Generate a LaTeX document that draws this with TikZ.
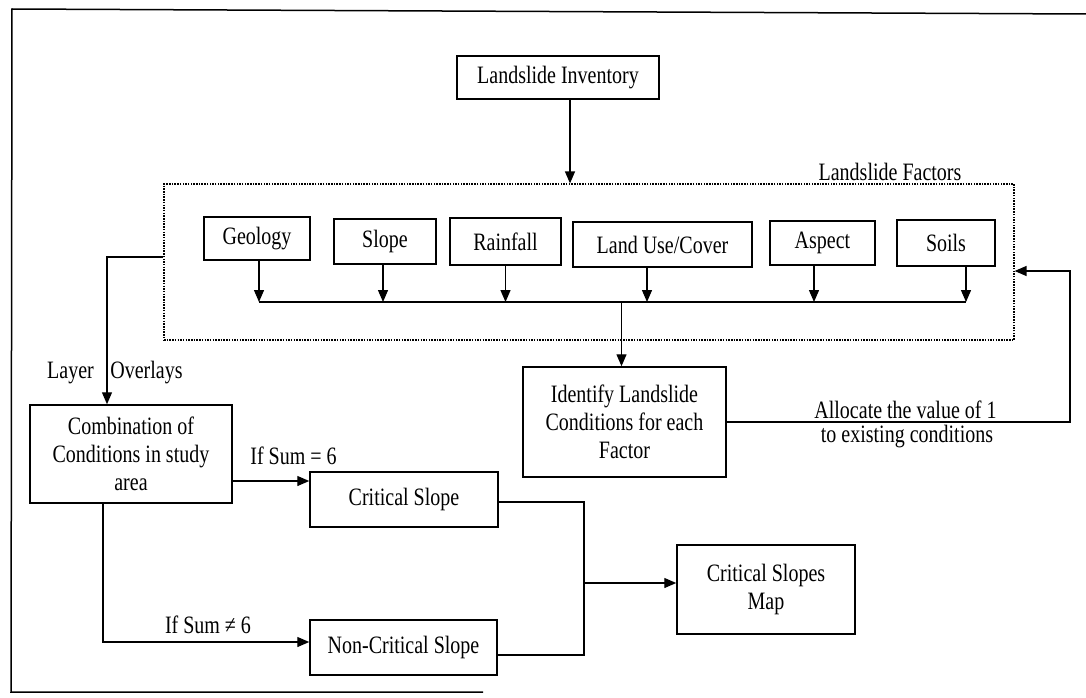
\documentclass[tikz,border=0pt]{standalone}
\usepackage{fontspec}
\setmainfont{Liberation Serif}[FakeStretch=0.8]
\usetikzlibrary{arrows.meta}
\begin{document}
\begin{tikzpicture}[x=1pt,y=-1pt,
  every node/.style={font=\fontsize{25}{28}\selectfont},
  box/.style={draw,line width=1.5pt,inner sep=0pt,align=center},
  ln/.style={line width=1.3pt},
  arr/.style={line width=1.3pt,-{Triangle[length=12pt,width=10pt]}},
  lbl/.style={inner sep=0pt,align=center}]
\useasboundingbox (0,0) rectangle (1086,698);
% outer frame (as visible)
\draw[line width=1.5pt] (1086,14) -- (12,9) -- (11,692) -- (483,692);

% nodes
\node[box,minimum width=202pt,minimum height=43pt] (inv) at (558,77.5) {Landslide Inventory};
\node[draw,line width=1.2pt,dash pattern=on 1.5pt off 1.2pt,inner sep=0pt,
      minimum width=850pt,minimum height=156pt] (fac) at (589,262) {};
\node[lbl] (facl) at (890,172) {Landslide Factors};

\node[box,minimum width=106pt,minimum height=43pt] (geo)   at (257,238.5) {Geology};
\node[box,minimum width=102pt,minimum height=45pt] (slope) at (385,241.5) {Slope};
\node[box,minimum width=111pt,minimum height=47pt] (rain)  at (505.5,241.5) {Rainfall};
\node[box,minimum width=179pt,minimum height=45pt] (land)  at (662.5,244.5) {Land Use/Cover};
\node[box,minimum width=105pt,minimum height=44pt] (asp)   at (822.5,243) {Aspect};
\node[box,minimum width=98pt,minimum height=46pt]  (soil)  at (946,243) {Soils};

\node[box,minimum width=203pt,minimum height=110pt] (idf) at (624.5,422)
  {Identify Landslide\\Conditions for each\\Factor};
\node[box,minimum width=202pt,minimum height=98pt] (comb) at (131,454)
  {Combination of\\Conditions in study\\area};
\node[box,minimum width=188pt,minimum height=55pt] (crit) at (404,499.5) {Critical Slope};
\node[box,minimum width=187pt,minimum height=55pt] (ncrit) at (403.5,647.5) {Non-Critical Slope};
\node[box,minimum width=178pt,minimum height=89pt] (map) at (766,589.5) {Critical Slopes\\Map};

% labels
\node[lbl] (lay) at (70.5,373) {Layer};
\node[lbl] (ovl) at (146.5,373) {Overlays};
\node[lbl] (s6) at (293.5,456) {If Sum = 6};
\node[lbl] (sn6) at (208,625) {If Sum ≠ 6};
\node[lbl] (al1) at (905.5,410) {Allocate the value of 1};
\node[lbl] (al2) at (907,437) {to existing conditions};

% coordinates
\coordinate (busL) at (259,302);
\coordinate (busR) at (966,302);
\coordinate (lo) at (107,257);
\coordinate (fb) at (1070,271);
\coordinate (c1) at (270,481);
\coordinate (c2) at (103,642);
\coordinate (j1) at (584,502);
\coordinate (j2) at (584,655);
\coordinate (j) at (584,583);

% connectors
\draw[arr] ([xshift=12pt]inv.south) -- ([xshift=12pt]inv.south |- fac.north);
\draw[arr] ([xshift=2pt]geo.south) -- ([xshift=2pt]geo.south |- busL);
\draw[arr] ([xshift=-2pt]slope.south) -- ([xshift=-2pt]slope.south |- busL);
\draw[arr] (rain.south) -- (rain.south |- busL);
\draw[arr] ([xshift=-15.5pt]land.south) -- ([xshift=-15.5pt]land.south |- busL);
\draw[arr] ([xshift=-8.5pt]asp.south) -- ([xshift=-8.5pt]asp.south |- busL);
\draw[arr] ([xshift=20pt]soil.south) -- ([xshift=20pt]soil.south |- busL);
\draw[ln] (busL) -- (busR);
\draw[arr] ([xshift=-3pt]idf.north |- busL) -- ([xshift=-3pt]idf.north);
\draw[arr] (idf.east) -| (fb) -- (fac.east |- fb);
\draw[arr] (fac.west |- lo) -- (lo) -- (lo |- comb.north);
\draw[arr] (comb.east |- c1) -- (crit.west |- c1);
\draw[arr] (comb.south -| c2) -- (c2) -- (ncrit.west |- c2);
\draw[ln] (crit.east |- j1) -- (j1) -- (j2) -- (ncrit.east |- j2);
\draw[arr] (j) -- (map.west |- j);
\end{tikzpicture}
\end{document}
